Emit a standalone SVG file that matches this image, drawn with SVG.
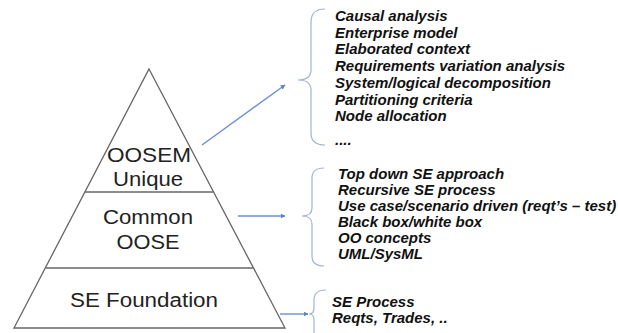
<svg xmlns="http://www.w3.org/2000/svg" width="618" height="333" viewBox="0 0 618 333">
<style>
.lvl{font-family:"Liberation Sans",Arial,sans-serif;font-size:19.5px;fill:#222;text-anchor:middle}
.item{font-family:"Liberation Sans",Arial,sans-serif;font-size:15px;font-weight:bold;font-style:italic;fill:#111}
.pyr{fill:none;stroke:#666;stroke-width:1.3}
.brace{fill:none;stroke:#a3b4d2;stroke-width:1.2}
.arr{fill:none;stroke:#6a8fd6;stroke-width:1.4}
</style>
<defs>
<marker id="ah" viewBox="0 0 10 10" refX="9" refY="5" markerWidth="5" markerHeight="5" orient="auto" markerUnits="userSpaceOnUse">
<path d="M0,0 L10,5 L0,10 z" fill="#5b82d4"/>
</marker>
</defs>
<rect width="618" height="333" fill="#fff"/>
<g id="pyramid">
<path class="pyr" d="M149,69 L285,328 L14,328 Z"/>
<line class="pyr" x1="85" y1="192" x2="213" y2="192"/>
<line class="pyr" x1="46" y1="268" x2="253" y2="268"/>
</g>
<g id="oosem-unique">
<text class="lvl" x="149" y="162" textLength="84" lengthAdjust="spacingAndGlyphs">OOSEM</text>
<text class="lvl" x="148" y="186" textLength="70" lengthAdjust="spacingAndGlyphs">Unique</text>
</g>
<g id="common-oose">
<text class="lvl" x="148" y="224" textLength="90" lengthAdjust="spacingAndGlyphs">Common</text>
<text class="lvl" x="148" y="249" textLength="63" lengthAdjust="spacingAndGlyphs">OOSE</text>
</g>
<g id="se-foundation">
<text class="lvl" x="144" y="307" textLength="148" lengthAdjust="spacingAndGlyphs">SE Foundation</text>
</g>
<g id="connectors">
<line class="arr" x1="202" y1="145" x2="285" y2="85" marker-end="url(#ah)"/>
<line class="arr" x1="238" y1="216" x2="285" y2="216" marker-end="url(#ah)"/>
<line class="arr" x1="280" y1="314" x2="308" y2="314" marker-end="url(#ah)"/>
</g>
<g id="oosem-list">
<path class="brace" d="M325,9 Q311,9 311,22 L311,70 Q311,80 298,80 Q311,80 311,90 L311,133 Q311,145 325,145"/>
<text class="item" x="335" y="21">Causal analysis</text>
<text class="item" x="335" y="37.7">Enterprise model</text>
<text class="item" x="335" y="54.4">Elaborated context</text>
<text class="item" x="335" y="71.1">Requirements variation analysis</text>
<text class="item" x="335" y="87.8">System/logical decomposition</text>
<text class="item" x="335" y="104.5">Partitioning criteria</text>
<text class="item" x="335" y="121.2">Node allocation</text>
<text class="item" x="335" y="145">....</text>
</g>
<g id="common-list">
<path class="brace" d="M324,168 Q312,168 312,178 L312,208 Q312,216 302,216 Q312,216 312,224 L312,256 Q312,266 324,266"/>
<text class="item" x="338" y="179">Top down SE approach</text>
<text class="item" x="338" y="195">Recursive SE process</text>
<text class="item" x="338" y="211">Use case/scenario driven (reqt’s – test)</text>
<text class="item" x="338" y="227">Black box/white box</text>
<text class="item" x="338" y="243">OO concepts</text>
<text class="item" x="338" y="259">UML/SysML</text>
</g>
<g id="foundation-list">
<path class="brace" d="M326,290 Q314,290 314,300 L314,308 Q314,314 309,314 Q314,314 314,320 L314,334"/>
<text class="item" x="332" y="307">SE Process</text>
<text class="item" x="332" y="323">Reqts, Trades, ..</text>
</g>
</svg>
